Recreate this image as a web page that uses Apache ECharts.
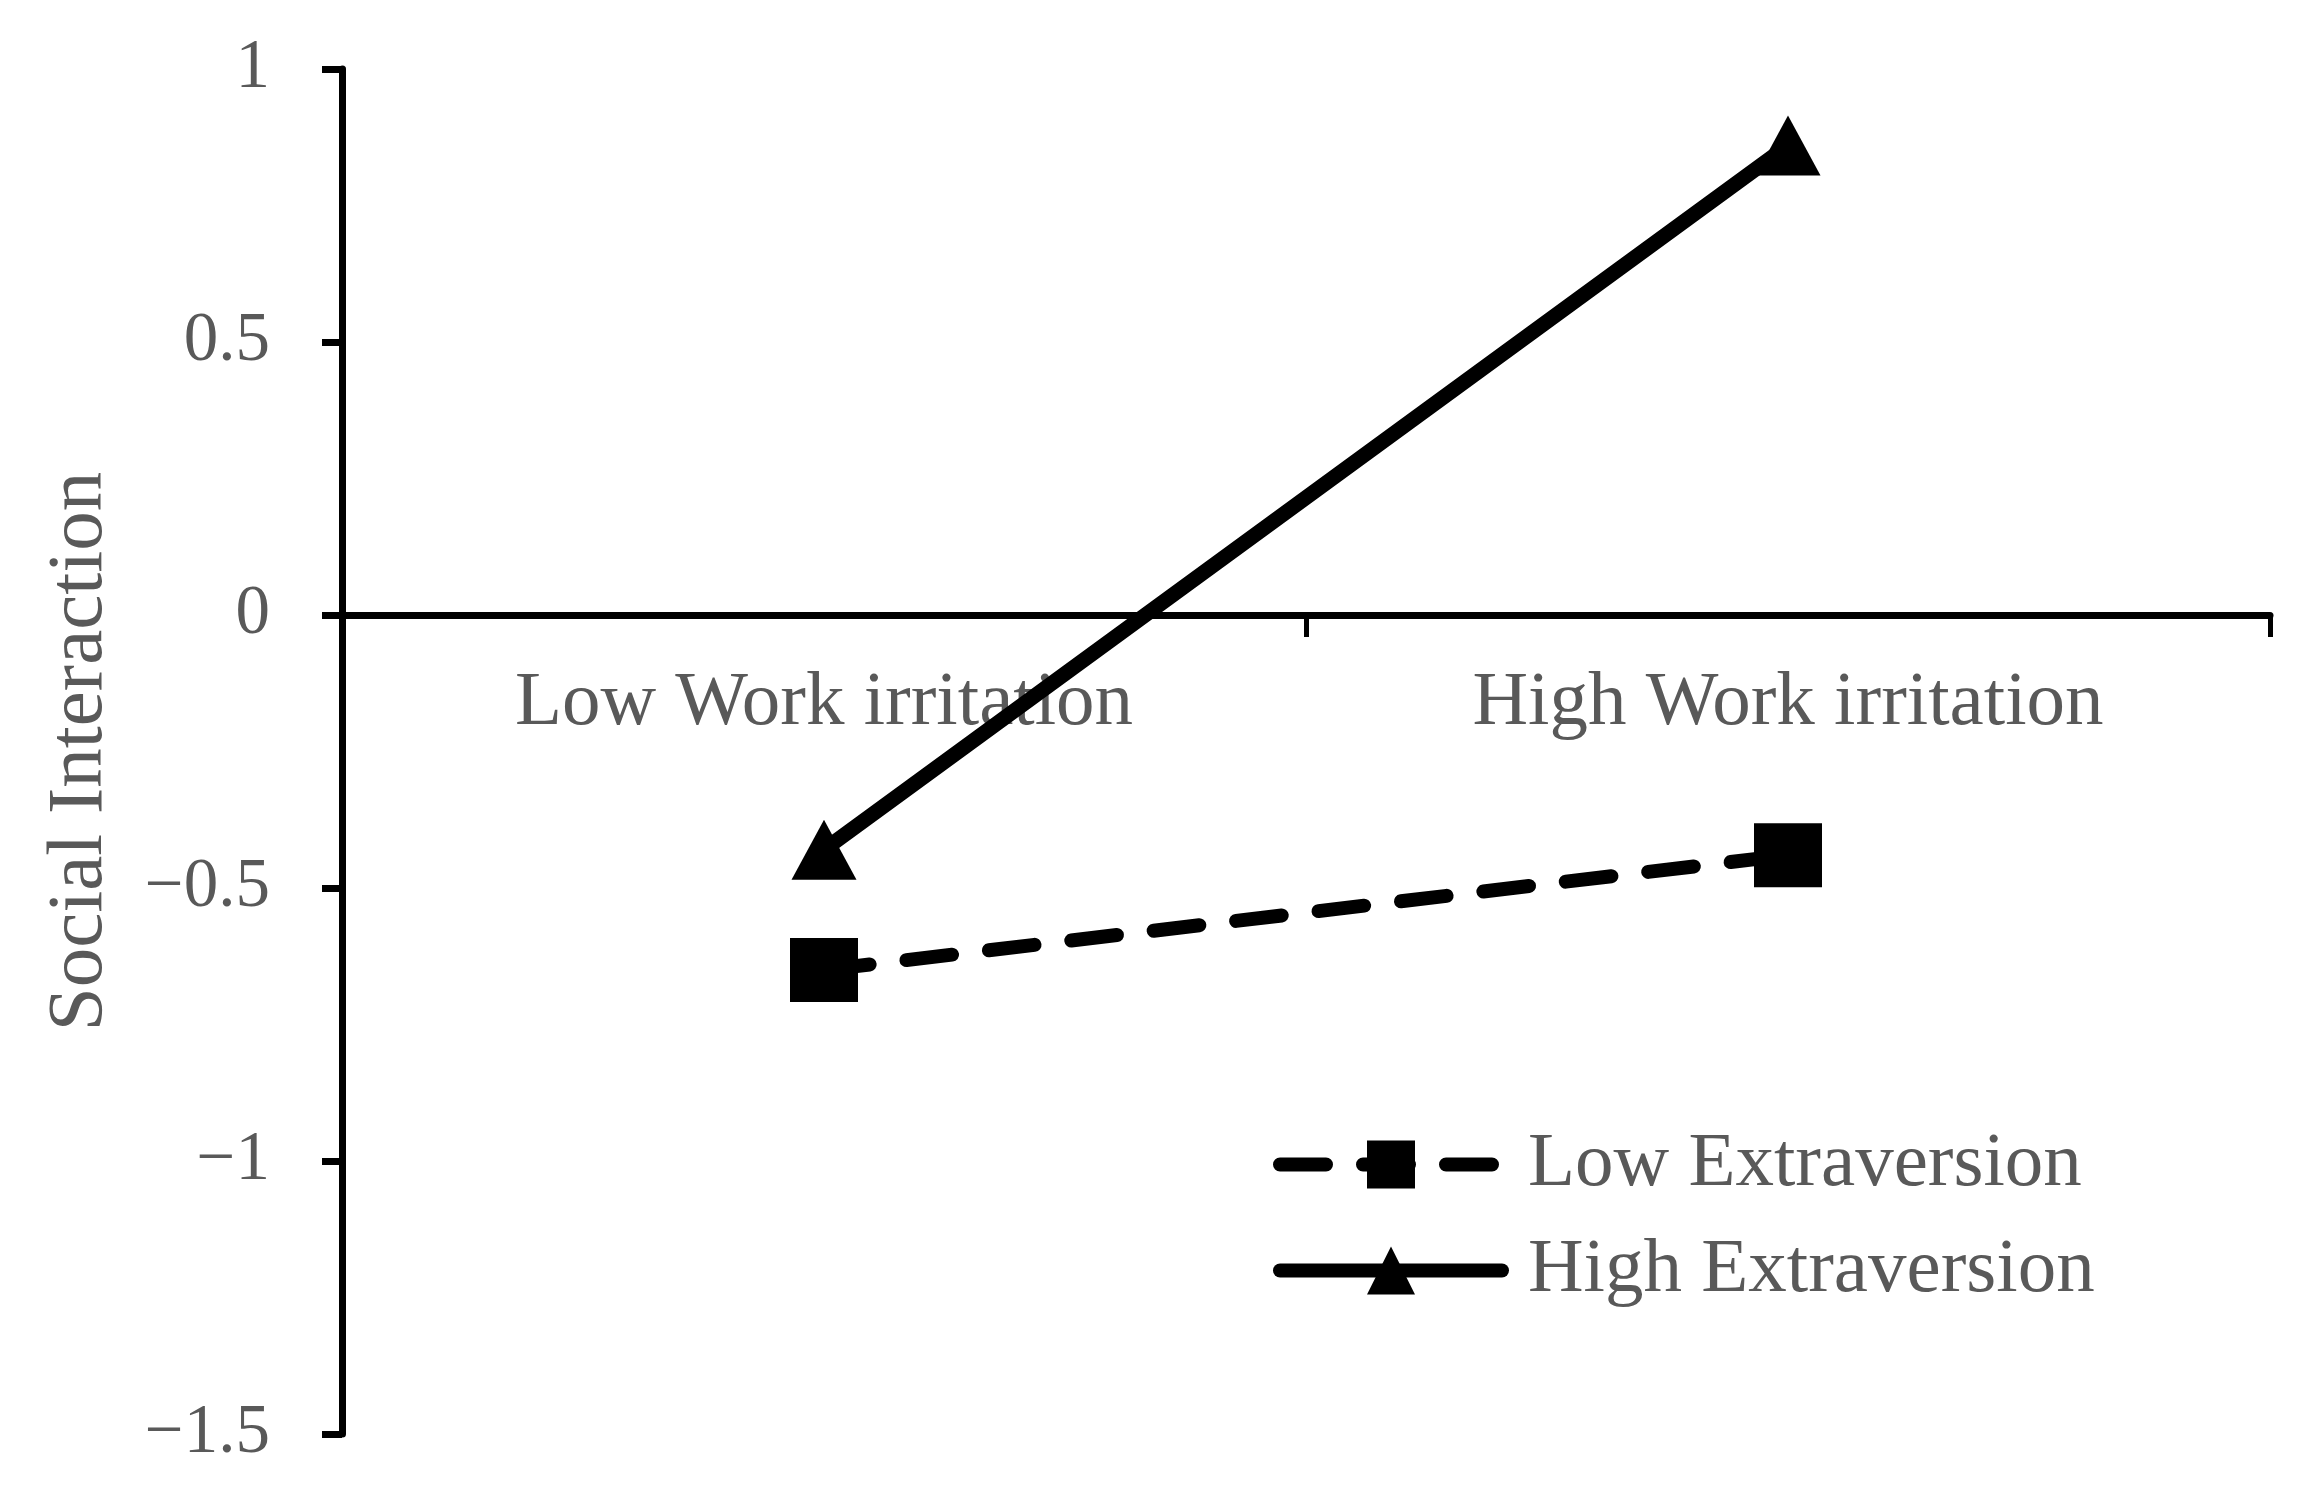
<!DOCTYPE html>
<html>
<head>
<meta charset="utf-8">
<script src="https://cdn.jsdelivr.net/npm/echarts@6/dist/echarts.min.js"></script>
<style>
html,body{margin:0;padding:0;background:#fff;}
#chart{width:2300px;height:1485px;}
</style>
</head>
<body>
<div id="chart"></div>
<script>
// ---- data ----
const categories = ['Low Work irritation', 'High Work irritation'];
const seriesNames = ['Low Extraversion', 'High Extraversion'];
const lowExtraversion = [-0.65, -0.44];
const highExtraversion = [-0.43, 0.86];
const yAxisTitle = 'Social Interaction';
const yMin = -1.5, yMax = 1, yStep = 0.5;

const FONT = '"Liberation Serif", "Times New Roman", serif';
const GREY = '#595959';

const GRID_TOP = 69, GRID_BOTTOM = 51, H = 1485;
const gridHeight = H - GRID_TOP - GRID_BOTTOM;
// move the category axis (line, ticks, labels) up to the zero line
const xOffset = -gridHeight * (0 - yMin) / (yMax - yMin);

const chart = echarts.init(document.getElementById('chart'), null, {renderer: 'canvas'});
chart.setOption({
  animation: false,
  backgroundColor: '#ffffff',
  grid: {left: 342, right: 30, top: GRID_TOP, bottom: GRID_BOTTOM, containLabel: false, outerBoundsMode: 'none'},
  legend: {
    orient: 'vertical',
    left: 1268,
    top: 1121,
    itemWidth: 222,
    itemHeight: 60,
    itemGap: 29,
    data: seriesNames,
    lineStyle: {width: 14},
    textStyle: {fontFamily: FONT, fontSize: 77, color: GREY, lineHeight: 60, padding: [0, 0, 0, 21]}
  },
  xAxis: {
    type: 'category',
    data: categories,
    boundaryGap: true,
    position: 'bottom',
    offset: xOffset,
    axisLine: {onZero: false, lineStyle: {color: '#000', width: 7}},
    axisTick: {show: true, length: 22, lineStyle: {color: '#000', width: 5}},
    axisLabel: {fontFamily: FONT, fontSize: 77, color: GREY, margin: 50},
    splitLine: {show: false}
  },
  yAxis: {
    type: 'value',
    min: yMin, max: yMax, interval: yStep,
    name: yAxisTitle,
    nameLocation: 'middle',
    nameGap: 222,
    nameTextStyle: {fontFamily: FONT, fontSize: 79, color: GREY},
    axisLine: {show: true, lineStyle: {color: '#000', width: 7}},
    axisTick: {show: true, length: 20, lineStyle: {color: '#000', width: 7}},
    axisLabel: {
      fontFamily: FONT, fontSize: 69, color: GREY, margin: 72,
      formatter: v => String(v).replace('-', '\u2212')
    },
    splitLine: {show: false}
  },
  series: [
    {
      name: seriesNames[0],
      type: 'line',
      data: lowExtraversion,
      symbol: 'rect',
      symbolSize: [68, 64],
      itemStyle: {color: '#000'},
      lineStyle: {color: '#000', width: 14, type: [46, 37], cap: 'round'},
      z: 3
    },
    {
      name: seriesNames[1],
      type: 'line',
      data: highExtraversion,
      symbol: 'triangle',
      symbolSize: [65, 60],
      itemStyle: {color: '#000'},
      lineStyle: {color: '#000', width: 15, type: 'solid', cap: 'round'},
      z: 4
    }
  ]
});
</script>
</body>
</html>
